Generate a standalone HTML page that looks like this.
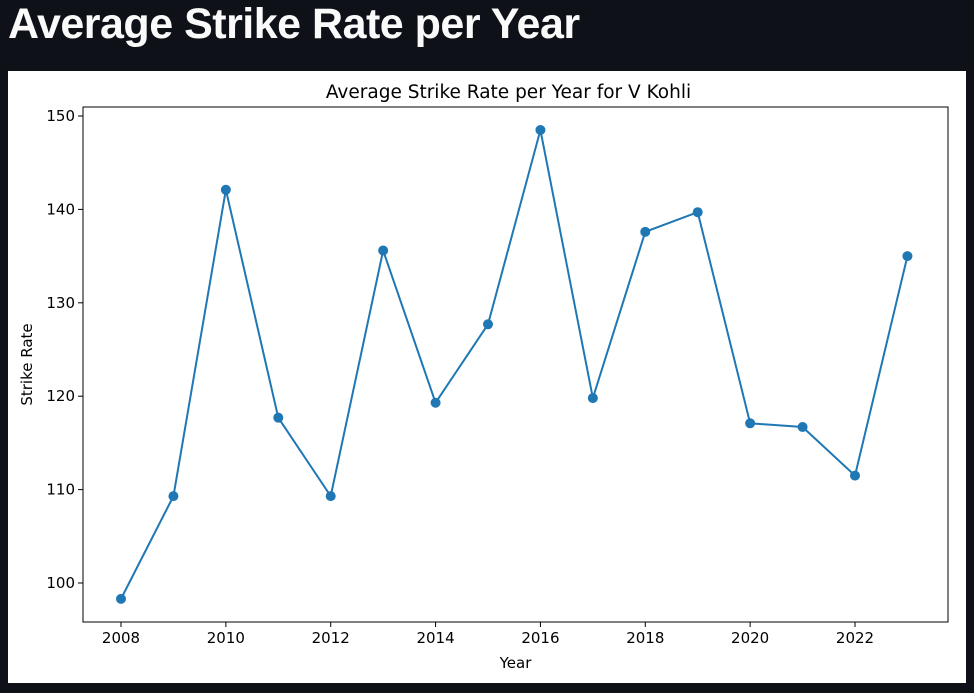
<!DOCTYPE html>
<html><head><meta charset="utf-8"><style>
html,body{margin:0;padding:0;background:#0e1117;width:974px;height:693px;overflow:hidden}
h1{position:absolute;left:8px;top:0px;margin:0;color:#fafafa;font:bold 43px "Liberation Sans",sans-serif;letter-spacing:-0.5px}
#panel{position:absolute;left:8px;top:71px;width:958px;height:612px;background:#fff}
svg text{font-family:"DejaVu Sans","Liberation Sans",sans-serif;fill:#000}
</style></head><body>
<h1>Average Strike Rate per Year</h1>
<div id="panel">
<svg id="chart" width="958" height="612"></svg>
</div>
<script>
const years=[2008,2009,2010,2011,2012,2013,2014,2015,2016,2017,2018,2019,2020,2021,2022,2023];
const strikeRates=[98.3,109.3,142.1,117.7,109.3,135.6,119.3,127.7,148.5,119.8,137.6,139.7,117.1,116.7,111.5,135.0];
const xTicks=[2008,2010,2012,2014,2016,2018,2020,2022];
const yTicks=[100,110,120,130,140,150];
const NS='http://www.w3.org/2000/svg';
const svg=document.getElementById('chart');
const L=75,R=940,T=36,B=551;
function xs(v){return 113+(v-2008)*(734/14);}
function ys(v){return 512-(v-100)*9.34;}
function mk(tag,attrs,parent){const e=document.createElementNS(NS,tag);for(const k in attrs)e.setAttribute(k,attrs[k]);(parent||svg).appendChild(e);return e;}
const frame=mk('rect',{x:L,y:T,width:R-L,height:B-T,fill:'none',stroke:'#000','stroke-width':1});


const tt=mk('text',{x:(L+R)/2-7,y:27,'text-anchor':'middle','font-size':'18.5'});
tt.textContent='Average Strike Rate per Year for V Kohli';


xTicks.forEach(t=>{const x=xs(t);
 mk('line',{x1:x,x2:x,y1:B,y2:B+5,stroke:'#000'});
 const tx=mk('text',{x:x,y:B+21,'text-anchor':'middle','font-size':'15'});tx.textContent=t;
 
 });
yTicks.forEach(t=>{const y=ys(t);
 mk('line',{x1:L-5,x2:L,y1:y,y2:y,stroke:'#000'});
 const tx=mk('text',{x:L-8,y:y+5,'text-anchor':'end','font-size':'15'});tx.textContent=t;
 
 });
const xl=mk('text',{x:(L+R)/2,y:597,'text-anchor':'middle','font-size':'15'});xl.textContent='Year';


const yl=mk('text',{x:0,y:0,'text-anchor':'middle','font-size':'15',transform:'translate(24,'+((T+B)/2)+') rotate(-90)'});yl.textContent='Strike Rate';


const pts=years.map((y,i)=>xs(y)+','+ys(strikeRates[i])).join(' ');
const pl=mk('polyline',{points:pts,fill:'none',stroke:'#1f77b4','stroke-width':2});


years.forEach((y,i)=>{const c=mk('circle',{cx:xs(y),cy:ys(strikeRates[i]),r:5,fill:'#1f77b4'});
 
 });
</script>
</body></html>
